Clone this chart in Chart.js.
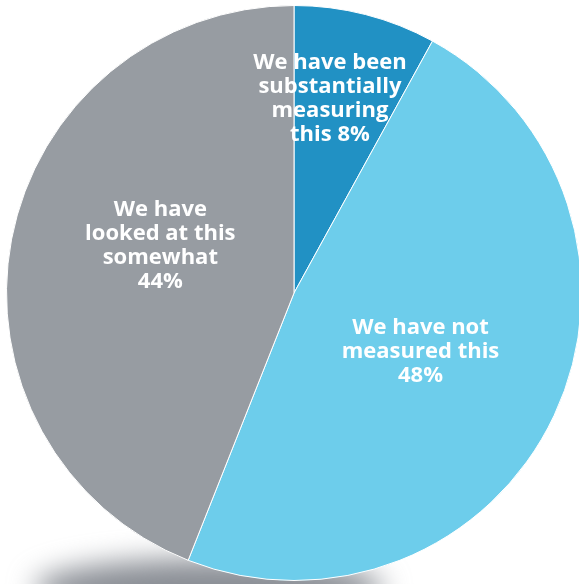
<!DOCTYPE html>
<html>
<head>
<meta charset="utf-8">
<script src="https://cdn.jsdelivr.net/npm/chart.js@4/dist/chart.umd.min.js"></script>
<style>
  html, body { margin: 0; padding: 0; background: #fff; overflow: hidden; }
  #wrap { position: absolute; left: 0; top: 0; width: 588px; height: 586px; }
</style>
</head>
<body>
<div id="wrap"><canvas id="myChart"></canvas></div>
<script>
// slices, clockwise from 12 o'clock
const categories = ['We have been substantially measuring this', 'We have not measured this', 'We have looked at this somewhat'];
const values = [8, 48, 44];
const labelLines = [
    ['We have been', 'substantially', 'measuring', 'this 8%'],
    ['We have not', 'measured this', '48%'],
    ['We have', 'looked at this', 'somewhat', '44%']
];
const colors = ['#2191c4', '#6dcdeb', '#979ca2'];

// where each label block sits, as fraction of radius from the centre
const labelSpots = [
    { fx: 0.125, fy: -0.675 },
    { fx: 0.44, fy: 0.205 },
    { fx: -0.465, fy: -0.165 }
];

// soft shadow under the lower-left of the pie
const shadow = {
    id: 'shadow',
    beforeDatasetsDraw(chart) {
        const arc = chart.getDatasetMeta(0).data[0];
        const ctx = chart.ctx;
        ctx.save();
        ctx.filter = 'blur(14px)';
        ctx.fillStyle = 'rgba(125,130,137,0.9)';
        ctx.beginPath();
        ctx.ellipse(arc.x - 85, arc.y + arc.outerRadius + 8, 175, 30, 0, 0, Math.PI * 2);
        ctx.fill();
        ctx.restore();
    }
};

const sliceLabels = {
    id: 'sliceLabels',
    afterDatasetsDraw(chart) {
        const ctx = chart.ctx;
        const arc = chart.getDatasetMeta(0).data[0];
        const r = arc.outerRadius;
        ctx.save();
        ctx.fillStyle = '#fff';
        ctx.font = 'bold 22px "Open Sans", sans-serif';
        ctx.textAlign = 'center';
        ctx.textBaseline = 'middle';
        labelLines.forEach((lines, i) => {
            const cx = arc.x + labelSpots[i].fx * r;
            const cy = arc.y + labelSpots[i].fy * r;
            const lh = 24;
            const top = cy - (lines.length - 1) * lh / 2;
            lines.forEach((t, j) => ctx.fillText(t, cx, top + j * lh));
        });
        ctx.restore();
    }
};

var ctx = document.getElementById('myChart').getContext('2d');
var myChart = new Chart(ctx, {
    type: 'pie',
    data: {
        labels: categories,
        datasets: [{
            data: values,
            backgroundColor: colors,
            borderColor: '#ffffff',
            borderWidth: 1
        }]
    },
    options: {
        responsive: true,
        maintainAspectRatio: false,
        animation: false,
        layout: { padding: { top: 5, bottom: 5, left: 6, right: 6 } },
        plugins: {
            legend: { display: false },
            tooltip: { enabled: false }
        }
    },
    plugins: [shadow, sliceLabels]
});
</script>
</body>
</html>
